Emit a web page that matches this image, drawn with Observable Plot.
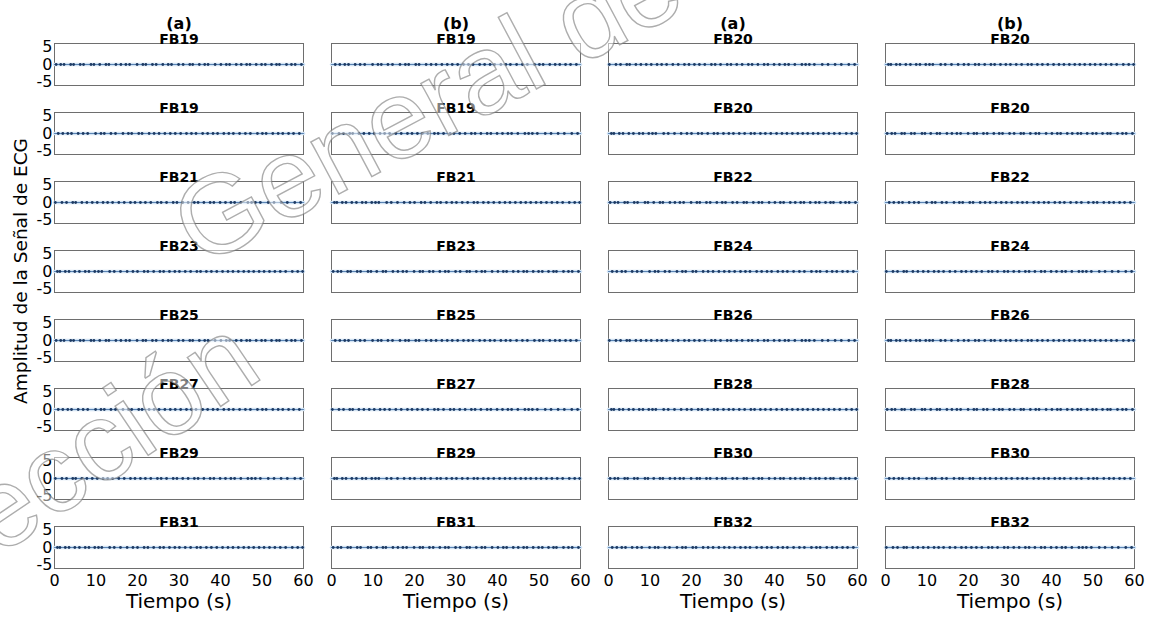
<!DOCTYPE html>
<html><head><meta charset="utf-8">
<script src="https://cdn.jsdelivr.net/npm/d3@7"></script>
<script src="https://cdn.jsdelivr.net/npm/@observablehq/plot@0.6"></script>
<style>
body{margin:0;background:#fff;}
#chart{position:relative;width:1155px;height:620px;overflow:hidden;}
</style></head><body><div id="chart"></div>
<script>
const headers = ["(a)", "(b)", "(a)", "(b)"];
const leftSubjects = ["FB19", "FB19", "FB21", "FB23", "FB25", "FB27", "FB29", "FB31"];
const rightSubjects = ["FB20", "FB20", "FB22", "FB24", "FB26", "FB28", "FB30", "FB32"];
const xTicks = [0, 10, 20, 30, 40, 50, 60];
const yTicks = [-5, 0, 5];
const xLabel = "Tiempo (s)";
const yLabel = "Amplitud de la Señal de ECG";
const watermarkLines = ["Dirección", "General de Bibliotecas"];

// beat (spike) times in seconds, read approximately from the dark blobs
const beatsA = [0.4,1.5,2.3,3.9,4.6,6.2,7.0,8.8,9.5,10.9,12.4,13.1,14.8,16.0,17.2,18.1,19.9,21.3,22.0,23.6,24.5,26.1,27.4,28.2,29.9,31.0,32.6,33.3,34.9,36.2,37.0,38.7,40.1,41.4,42.2,43.8,45.0,46.3,47.1,48.6,49.9,50.8,52.3,53.5,54.2,55.9,57.1,58.0,59.5];
const beatsB = [0.9,2.0,3.2,4.1,5.7,6.9,8.0,9.9,11.2,12.0,13.6,14.7,16.5,17.8,18.6,20.3,21.1,22.8,24.0,25.2,26.6,27.9,29.1,30.4,31.8,33.0,34.1,35.7,36.9,38.2,39.3,40.8,42.0,43.1,44.6,46.0,47.2,48.9,50.1,51.0,52.6,53.9,55.0,56.4,57.6,59.0];
const beatsC = [0.2,1.8,2.9,4.4,5.1,6.6,7.8,9.1,10.3,11.7,12.8,14.0,15.5,16.8,18.3,19.4,20.7,21.9,23.2,24.8,25.7,27.0,28.6,29.5,30.9,32.2,33.7,34.6,36.0,37.5,38.4,39.9,41.2,42.5,43.4,44.9,46.6,47.5,48.4,49.6,51.5,52.9,54.6,56.1,57.9,59.3];
const beatsD = [0.7,1.3,2.6,3.5,4.9,6.0,7.4,8.3,9.7,10.6,11.4,13.3,14.4,15.9,17.5,18.9,20.0,21.6,22.5,23.9,25.4,26.3,27.7,29.0,30.1,31.5,32.8,34.3,35.2,36.6,37.8,39.1,40.5,41.8,43.0,44.3,45.6,46.8,48.0,49.3,50.5,51.8,53.1,54.4,55.7,57.3,58.6,59.8];
const beatPatterns = [beatsA, beatsB, beatsC, beatsD];

const panels = [];
for (let r = 0; r < 8; r++) for (let c = 0; c < 4; c++) {
  panels.push({row: r, col: c, name: (c < 2 ? leftSubjects : rightSubjects)[r], beats: beatPatterns[(r + c) % 4]});
}
const beatPoints = panels.flatMap(p => p.beats.map(t => ({row: p.row, col: p.col, t, v: 0})));
const baseline = panels.flatMap(p => [{row: p.row, col: p.col, t: xTicks[0], v: 0}, {row: p.row, col: p.col, t: xTicks[xTicks.length - 1], v: 0}]);

const font = "'DejaVu Sans', Arial, Helvetica, sans-serif";
const chart = Plot.plot({
  width: 1155, height: 620,
  marginLeft: 53, marginRight: 19, marginTop: 42, marginBottom: 52,
  style: {fontFamily: font, fontSize: "16px", color: "#000", background: "transparent"},
  x: {domain: [0, 60], label: null},
  y: {domain: [-6, 6], label: null},
  fx: {domain: [0, 1, 2, 3], paddingInner: 0.1, paddingOuter: 0, label: null},
  fy: {domain: d3.range(8), paddingInner: 0.3926, paddingOuter: 0, axis: null, label: null},
  marks: [
    Plot.frame({stroke: "#6e6e6e", strokeWidth: 1}),
    Plot.line(baseline, {x: "t", y: "v", fx: "col", fy: "row", z: d => d.row * 4 + d.col, stroke: "#d3e4f4", strokeWidth: 3.5}),
    Plot.line(baseline, {x: "t", y: "v", fx: "col", fy: "row", z: d => d.row * 4 + d.col, stroke: "#5a84b5", strokeWidth: 1}),
    Plot.dot(beatPoints, {x: "t", y: "v", fx: "col", fy: "row", r: 1.4, fill: "#1d3a63", stroke: "none"}),
    Plot.text(panels, {fx: "col", fy: "row", text: "name", frameAnchor: "top", lineAnchor: "bottom", dy: 0, fontWeight: "bold", fontSize: 14}),
    Plot.text(panels.filter(p => p.row === 7), {fx: "col", fy: "row", text: () => xLabel, frameAnchor: "bottom", dy: 39, fontSize: 20}),
    Plot.axisX({ticks: xTicks, tickSize: 0, tickPadding: 6, fontSize: 16, label: null, tickFormat: d => String(d)}),
    Plot.axisY({ticks: yTicks, tickSize: 0, tickPadding: 2, fontSize: 16, label: null, tickFormat: d => String(d)}),
    Plot.axisFx({anchor: "top", tickSize: 0, tickPadding: 15, fontSize: 16, fontWeight: "bold", label: null, tickFormat: i => headers[i]})
  ]
});
document.getElementById("chart").appendChild(chart);

const svg = d3.select(chart);
svg.append("text")
  .attr("transform", "translate(22,271) rotate(-90)")
  .attr("text-anchor", "middle").attr("dominant-baseline", "middle")
  .style("font-family", font).style("font-size", "18.5px").attr("fill", "#000")
  .text(yLabel);

// watermark (outlined text)
const wm = svg.append("g").style("font-family", "'Liberation Sans', Arial, sans-serif").style("font-size", "112px")
  .attr("fill", "#fff").attr("fill-opacity", 0.5).attr("stroke", "#777").attr("stroke-opacity", 0.6).attr("stroke-width", 1.4);
wm.append("text").attr("transform", "translate(266,376) rotate(-34)").attr("text-anchor", "end").text(watermarkLines[0]);
wm.append("text").attr("transform", "translate(200,268) rotate(-28)").attr("text-anchor", "start").text(watermarkLines[1]);
</script></body></html>
